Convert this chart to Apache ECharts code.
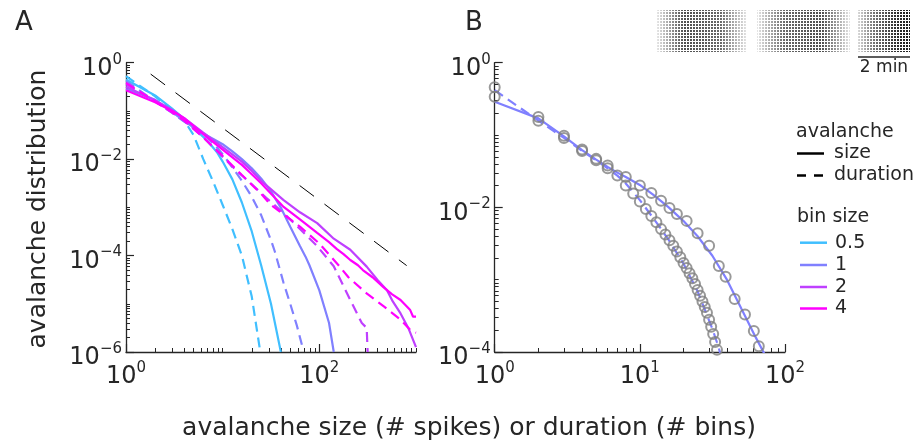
<!DOCTYPE html>
<html><head><meta charset="utf-8">
<script src="https://cdn.jsdelivr.net/npm/echarts@6/dist/echarts.min.js"></script>
<style>html,body{margin:0;padding:0;background:#fff}#c{width:917px;height:442px}</style>
</head><body><div id="c"></div>
<script>
// ---------- data ----------
// Panel A: bin size 0.5 ms
const b05SizeX = [1,2,3,4,5,6,7,8.7,10,12.6,15.8,20,25,31.6,40];
const b05SizeY = [0.447,0.209,0.112,0.068,0.0447,0.0316,0.0234,0.0141,0.0089,0.0038,1.26e-3,3.16e-4,6.3e-5,1e-5,1e-6];
const b05DurX = [1,2,3,4,5,6.3,7.9,10,12.6,15.8,20,24.5];
const b05DurY = [0.525,0.2,0.1,0.063,0.0316,0.01,3.55e-3,1.12e-3,3.55e-4,1e-4,1.41e-5,1e-6];
// bin size 1
const b1SizeX = [1,2,3,4,5,6,7,8,10,12.6,15.8,20,25,31.6,39.8,50,63,72,79,100,126,141];
const b1SizeY = [0.288,0.170,0.0955,0.0617,0.0457,0.0363,0.0302,0.0263,0.0204,0.0145,0.01,6.46e-3,3.98e-3,2.14e-3,1e-3,3.98e-4,1.58e-4,9.5e-5,6.3e-5,1.9e-5,4e-6,1e-6];
const b1DurX = [1,2,3,4,5,6,7,8,10,12.6,15.8,20,25,31.6,34.7,39.8,42.7,50,58.9,66];
const b1DurY = [0.417,0.158,0.0912,0.0603,0.0447,0.0347,0.0275,0.0214,0.0126,6.76e-3,3.55e-3,1.66e-3,6.9e-4,2.09e-4,1.2e-4,4.47e-5,2.69e-5,1e-5,3.39e-6,1.41e-6];
// bin size 2
const b2SizeX = [1,2,3,4,6.3,10,15.8,19.5,25,42.7,63,95,141,209,309,398,501,575,692,832,1000];
const b2SizeY = [0.316,0.166,0.105,0.0708,0.0355,0.0178,8.9e-3,6.0e-3,3.55e-3,1.41e-3,7.9e-4,4.7e-4,2.24e-4,1.32e-4,5.9e-5,3.16e-5,1.9e-5,1.12e-5,6.3e-6,3.16e-6,1.26e-6];
const b2DurX = [1,2,3,4,6.3,10,14.1,19.5,28.2,42.7,63,95.5,141,209,275,309,316];
const b2DurY = [0.355,0.158,0.0933,0.0631,0.0282,0.0112,5.6e-3,3.16e-3,1.58e-3,7.6e-4,3.55e-4,1.55e-4,6.0e-5,1.2e-5,3.98e-6,3.16e-6,1e-6];
// bin size 4
const b4SizeX = [1,2,3,4,6.3,10,15.8,19.5,25,42.7,63,95,126,151,158,178,209,251,282,355,457,562,692,871,933,1000];
const b4SizeY = [0.269,0.151,0.1,0.0708,0.0331,0.0158,7.6e-3,5.1e-3,3.16e-3,1.02e-3,5.6e-4,2.95e-4,1.9e-4,1.38e-4,1.45e-4,1.07e-4,8.1e-5,6.3e-5,5.0e-5,3.55e-5,2.24e-5,1.58e-5,1.2e-5,7.4e-6,5.4e-6,5.4e-6];
const b4DurX = [1,2,3,4,6.3,10,15.8,25,31.6,63,100,158,200,316,468,692,871,1000];
const b4DurY = [0.38,0.158,0.0933,0.0631,0.0282,0.0117,4.68e-3,1.91e-3,1.12e-3,3.98e-4,1.78e-4,6.3e-5,3.55e-5,1.58e-5,8.7e-6,4.68e-6,2.88e-6,2.51e-6];
// power-law guide (slope -1.5)
const guideX = [1.8, 800];
const guideY = [0.58, 6.2e-5];
// Panel B: circles (bin size 1)
const circSizeX = [1,2,3,4,5,6,8,10,12,14,16,18,21,25,30,35,39,45,53,61,66];
const circSizeY = [0.339,0.178,0.0977,0.0631,0.0468,0.038,0.0263,0.02,0.0158,0.0123,9.8e-3,8.1e-3,6.5e-3,4.4e-3,2.95e-3,1.55e-3,1.1e-3,5.4e-4,3.3e-4,1.95e-4,1.2e-4];
const circDurX = [1,2,3,4,5,6,7,8,9,10,11,12,13,14,15,16,17,18,19,20,21,22,23,24,25,26,27,28,29,30,31,32,33,34];
const circDurY = [0.457,0.158,0.0912,0.0603,0.0447,0.0347,0.0275,0.02,0.0155,0.012,9.5e-3,7.6e-3,6.2e-3,5.0e-3,4.2e-3,3.5e-3,2.95e-3,2.45e-3,2.04e-3,1.7e-3,1.45e-3,1.23e-3,1.05e-3,8.7e-4,7.2e-4,6.0e-4,5.0e-4,4.2e-4,3.5e-4,2.8e-4,2.24e-4,1.78e-4,1.38e-4,1.07e-4];

const binLabels = ['0.5','1','2','4'];
const binColors = ['#40BFFF','#8080FF','#BF40FF','#FF00FF'];
const xLabelsA = [1, 100];
const yLabelsA = [1, 1e-2, 1e-4, 1e-6];
const xLabelsB = [1, 10, 100];
const yLabelsB = [1, 1e-2, 1e-4];

// ---------- helpers ----------
const zip = (xs, ys) => xs.map((x, i) => [x, ys[i]]);
const TXT = '#262626';
const FONT = 'DejaVu Sans';
function minorTicks(lo, hi, majors) {
  const out = [];
  for (let d = lo; d < hi; d++) {
    for (let k = 1; k <= 9; k++) {
      const v = Number((k * Math.pow(10, d)).toPrecision(6));
      if (!majors.includes(v)) out.push(v);
    }
  }
  const top = Number(Math.pow(10, hi).toPrecision(6));
  if (!majors.includes(top)) out.push(top);
  return out;
}
function fmt(v) {
  const e = Math.round(Math.log10(v));
  return '{b|10}{s|' + (e < 0 ? '\u2212' + (-e) : e) + '}';
}
const rich = {
  b: {fontSize: 24, lineHeight: 24, fontFamily: FONT, color: TXT, padding: [12,0,0,0]},
  s: {fontSize: 15, lineHeight: 15, fontFamily: FONT, color: TXT, padding: [0,0,6,0]}
};
function majorAxis(dim, grid, min, max, labels) {
  return {
    type: 'log', logBase: 10, gridIndex: grid, min, max,
    position: dim === 'x' ? 'bottom' : 'left',
    axisLine: {show: true, lineStyle: {color: TXT, width: 1.3}},
    axisTick: {show: true, inside: true, length: 8, customValues: labels, lineStyle: {color: TXT, width: 1.2}},
    axisLabel: {show: true, customValues: labels, formatter: fmt, rich, margin: dim === 'x' ? 7 : 4},
    splitLine: {show: false}, minorTick: {show: false}
  };
}
function minorAxis(dim, grid, min, max, lo, hi, labels) {
  return {
    type: 'log', logBase: 10, gridIndex: grid, min, max,
    position: dim === 'x' ? 'bottom' : 'left',
    axisLine: {show: false},
    axisTick: {show: true, inside: true, length: 4, customValues: minorTicks(lo, hi, labels), lineStyle: {color: TXT, width: 1}},
    axisLabel: {show: false}, splitLine: {show: false}
  };
}
function line(data, color, dashed, xi, yi) {
  return {
    type: 'line', data, xAxisIndex: xi, yAxisIndex: yi, showSymbol: false, symbol: 'none',
    lineStyle: {color, width: 2.2, type: dashed ? [10, 6] : 'solid'},
    clip: true, animation: false, silent: true, z: 3
  };
}
function circles(data) {
  return {
    type: 'scatter', data, xAxisIndex: 2, yAxisIndex: 2, symbol: 'circle', symbolSize: 10,
    itemStyle: {color: 'rgba(0,0,0,0)', borderColor: '#7f7f7f', borderWidth: 2},
    clip: false, animation: false, silent: true, z: 4
  };
}

// raster texture
const tile = document.createElement('canvas');
tile.width = 3; tile.height = 3;
const tctx = tile.getContext('2d');
tctx.fillStyle = '#000'; tctx.fillRect(0, 0, 2, 2);
function rasterBlock(x, w, stops) {
  return [
    {type: 'rect', shape: {x, y: 10, width: w, height: 42}, style: {fill: {type: 'pattern', image: tile, repeat: 'repeat'}}, silent: true},
    {type: 'rect', shape: {x, y: 10, width: w, height: 42}, style: {fill: new echarts.graphic.LinearGradient(0, 0, 1, 0, stops)}, silent: true}
  ];
}
const fade = (a, b, c, d) => [
  {offset: 0, color: 'rgba(255,255,255,' + a + ')'},
  {offset: 0.3, color: 'rgba(255,255,255,' + b + ')'},
  {offset: 0.7, color: 'rgba(255,255,255,' + c + ')'},
  {offset: 1, color: 'rgba(255,255,255,' + d + ')'}
];

const chart = echarts.init(document.getElementById('c'), null, {renderer: 'canvas'});
const seriesA = [];
seriesA.push({type: 'line', data: zip(guideX, guideY), xAxisIndex: 0, yAxisIndex: 0, showSymbol: false, symbol: 'none',
  lineStyle: {color: '#000', width: 1, type: [18, 13]}, animation: false, silent: true, z: 2});
const pairs = [[b05SizeX,b05SizeY,b05DurX,b05DurY],[b1SizeX,b1SizeY,b1DurX,b1DurY],[b2SizeX,b2SizeY,b2DurX,b2DurY],[b4SizeX,b4SizeY,b4DurX,b4DurY]];
pairs.forEach((p, i) => {
  seriesA.push(line(zip(p[0], p[1]), binColors[i], false, 0, 0));
  seriesA.push(line(zip(p[2], p[3]), binColors[i], true, 0, 0));
});
const seriesB = [
  line(zip(b1SizeX, b1SizeY), binColors[1], false, 2, 2),
  line(zip(b1DurX, b1DurY), binColors[1], true, 2, 2),
  circles(zip(circSizeX, circSizeY)),
  circles(zip(circDurX, circDurY))
];

const legendY = [242.7, 265, 287, 308.5];
const graphics = [
  {type: 'text', x: 15, y: 23, style: {text: 'A', font: '26px "DejaVu Sans"', fill: TXT, textVerticalAlign: 'middle'}},
  {type: 'text', x: 465, y: 23, style: {text: 'B', font: '26px "DejaVu Sans"', fill: TXT, textVerticalAlign: 'middle'}},
  {type: 'text', x: 38, y: 209, rotation: Math.PI / 2, style: {text: 'avalanche distribution', font: '25px "DejaVu Sans"', fill: TXT, textAlign: 'center', textVerticalAlign: 'middle'}},
  {type: 'text', x: 469, y: 428, style: {text: 'avalanche size (# spikes) or duration (# bins)', font: '25px "DejaVu Sans"', fill: TXT, textAlign: 'center', textVerticalAlign: 'middle'}},
  {type: 'text', x: 796, y: 132, style: {text: 'avalanche', font: '19px "DejaVu Sans"', fill: TXT, textVerticalAlign: 'middle'}},
  {type: 'line', shape: {x1: 797, y1: 153.5, x2: 824, y2: 153.5}, style: {stroke: '#000', lineWidth: 2.5}},
  {type: 'text', x: 834, y: 153, style: {text: 'size', font: '19px "DejaVu Sans"', fill: TXT, textVerticalAlign: 'middle'}},
  {type: 'line', shape: {x1: 797, y1: 175.5, x2: 824, y2: 175.5}, style: {stroke: '#000', lineWidth: 2.5, lineDash: [9, 8]}},
  {type: 'text', x: 834, y: 175, style: {text: 'duration', font: '19px "DejaVu Sans"', fill: TXT, textVerticalAlign: 'middle'}},
  {type: 'text', x: 797, y: 217, style: {text: 'bin size', font: '19px "DejaVu Sans"', fill: TXT, textVerticalAlign: 'middle'}},
  {type: 'line', shape: {x1: 858, y1: 57, x2: 910, y2: 57}, style: {stroke: TXT, lineWidth: 1.5}},
  {type: 'text', x: 884, y: 68, style: {text: '2 min', font: '17px "DejaVu Sans"', fill: TXT, textAlign: 'center', textVerticalAlign: 'middle'}}
];
binLabels.forEach((lab, i) => {
  graphics.push({type: 'line', shape: {x1: 800, y1: legendY[i], x2: 827, y2: legendY[i]}, style: {stroke: binColors[i], lineWidth: 2.5}});
  graphics.push({type: 'text', x: 835, y: legendY[i], style: {text: lab, font: '19px "DejaVu Sans"', fill: TXT, textVerticalAlign: 'middle'}});
});
[].concat(
  rasterBlock(657, 90, fade(0.9, 0.3, 0.4, 0.9)),
  rasterBlock(757, 93, fade(0.9, 0.4, 0.3, 0.9)),
  rasterBlock(858, 52, fade(0.85, 0.45, 0.2, 0.1))
).forEach(g => graphics.push(g));

chart.setOption({
  animation: false,
  backgroundColor: '#fff',
  textStyle: {fontFamily: FONT, color: TXT},
  grid: [
    {left: 126, top: 62.7, width: 290, height: 289.3, outerBoundsMode: 'none', containLabel: false},
    {left: 494.7, top: 62.7, width: 290.3, height: 289.3, outerBoundsMode: 'none', containLabel: false}
  ],
  xAxis: [
    majorAxis('x', 0, 1, 1000, xLabelsA),
    minorAxis('x', 0, 1, 1000, 0, 3, xLabelsA),
    majorAxis('x', 1, 1, 100, xLabelsB),
    minorAxis('x', 1, 1, 100, 0, 2, xLabelsB)
  ],
  yAxis: [
    majorAxis('y', 0, 1e-6, 1, yLabelsA),
    minorAxis('y', 0, 1e-6, 1, -6, 0, yLabelsA),
    majorAxis('y', 1, 1e-4, 1, yLabelsB),
    minorAxis('y', 1, 1e-4, 1, -4, 0, yLabelsB)
  ],
  series: seriesA.concat(seriesB),
  graphic: graphics
});
</script></body></html>
